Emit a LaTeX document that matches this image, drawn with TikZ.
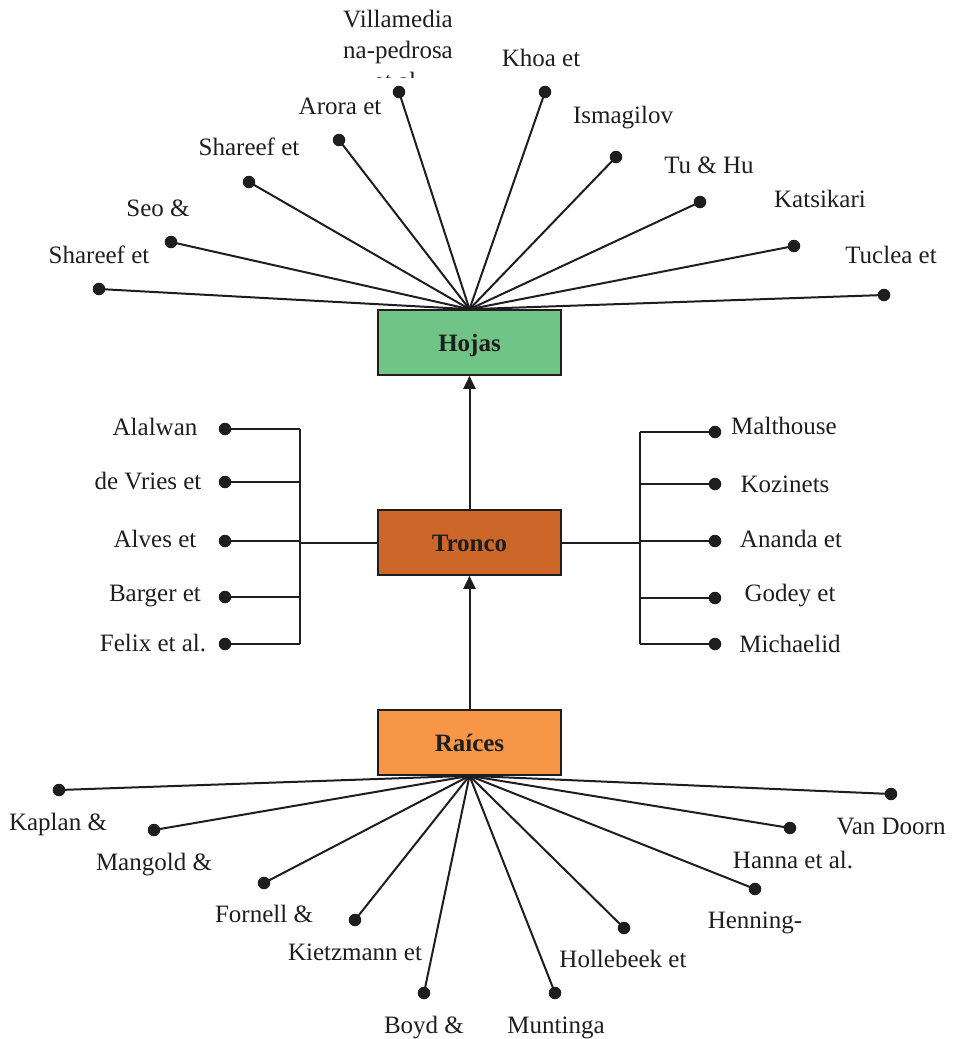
\documentclass[tikz,border=0pt]{standalone}
\usepackage{fontspec}
\setmainfont{Liberation Serif}
\usetikzlibrary{arrows.meta}
\definecolor{hojasgreen}{RGB}{112,196,134}
\definecolor{troncobrown}{RGB}{204,102,41}
\definecolor{raicesorange}{RGB}{247,150,70}
\definecolor{ink}{RGB}{30,30,30}
\begin{document}
\begin{tikzpicture}[x=1pt,y=-1pt,
  every node/.style={font=\fontsize{25}{30}\selectfont, text=ink},
  level/.style={draw=ink, line width=1.6pt, minimum width=183pt, minimum height=65pt,
    inner sep=0pt, text height=17pt, text depth=0pt,
    font=\fontsize{25}{30}\selectfont\bfseries},
  dot/.style={circle, fill=ink, inner sep=0pt, minimum size=12.5pt},
  lbl/.style={inner sep=0pt, text height=17pt, text depth=0pt},
  link/.style={draw=ink, line width=2pt},
  up/.style={link, -{Triangle[width=12pt,length=13pt]}}]
\useasboundingbox (0,0) rectangle (957,1039);

% the three levels
\node[level, fill=hojasgreen]   (hojas)  at (469.5,342.5) {Hojas};
\node[level, fill=troncobrown]  (tronco) at (469.5,542.5) {Tronco};
\node[level, fill=raicesorange] (raices) at (469.5,742.5) {Raíces};
\draw[up] (raices.north) -- (tronco.south);
\draw[up] (tronco.north) -- (hojas.south);

% leaves: authors fanning out from Hojas
\foreach \n/\x/\y in {h1/99/289, h2/171/242, h3/249/182, h4/339/140, h5/399/92,
                      h6/545/92, h7/616/157, h8/700/202, h9/794/246, h10/884/295} {
  \node[dot] (\n) at (\x,\y) {};
  \draw[link] (hojas.north) -- (\n.center);
}
\node[lbl] (th1) at (99,255) {Shareef et};
\node[lbl] (th2) at (158,208) {Seo \&};
\node[lbl] (th3) at (249,147) {Shareef et};
\node[lbl] (th4) at (340,106) {Arora et};
\node[lbl] (th5a) at (398,19) {Villamedia};
\node[lbl] (th5b) at (398,50) {na-pedrosa};
\begin{scope}
  \clip (300,60) rectangle (500,77);
  \node[lbl] (th5c) at (398,81) {et al.};
\end{scope}
\node[lbl] (th6) at (541,58) {Khoa et};
\node[lbl] (th7) at (623,115) {Ismagilov};
\node[lbl] (th8) at (709,165) {Tu \& Hu};
\node[lbl] (th9) at (820,199) {Katsikari};
\node[lbl] (th10) at (891,255) {Tuclea et};

% trunk: two bracket buses beside Tronco
\coordinate (lbus) at (300,542.5);
\coordinate (rbus) at (640,542.5);
\foreach \n/\y in {l1/429, l2/482, l3/541, l4/597, l5/644} {
  \node[dot] (\n) at (225,\y) {};
  \draw[link] (\n.center) -- (\n.center -| lbus);
}
\foreach \n/\y in {r1/432, r2/484, r3/541, r4/598, r5/644} {
  \node[dot] (\n) at (715,\y) {};
  \draw[link] (\n.center) -- (\n.center -| rbus);
}
\draw[link] (l1.center -| lbus) -- (l5.center -| lbus);
\draw[link] (r1.center -| rbus) -- (r5.center -| rbus);
\draw[link] (tronco.west) -- (lbus);
\draw[link] (tronco.east) -- (rbus);

\node[lbl] (tl1) at (155,427) {Alalwan};
\node[lbl] (tl2) at (148,481) {de Vries et};
\node[lbl] (tl3) at (155,539) {Alves et};
\node[lbl] (tl4) at (155,593) {Barger et};
\node[lbl] (tl5) at (153,643) {Felix et al.};
\node[lbl] (tr1) at (784,426) {Malthouse};
\node[lbl] (tr2) at (785,484) {Kozinets};
\node[lbl] (tr3) at (791,539) {Ananda et};
\node[lbl] (tr4) at (790,593) {Godey et};
\node[lbl] (tr5) at (790,644) {Michaelid};

% roots: authors fanning out from Raíces
\foreach \n/\x/\y in {b1/59/790, b2/154/830, b3/264/883, b4/355/920, b5/424/993,
                      b6/555/993, b7/624/928, b8/755/889, b9/790/828, b10/891/794} {
  \node[dot] (\n) at (\x,\y) {};
  \draw[link] (raices.south) -- (\n.center);
}
\node[lbl] (tb1) at (58,822) {Kaplan \&};
\node[lbl] (tb2) at (154,862) {Mangold \&};
\node[lbl] (tb3) at (264,914) {Fornell \&};
\node[lbl] (tb4) at (355,952) {Kietzmann et};
\node[lbl] (tb5) at (424,1025) {Boyd \&};
\node[lbl] (tb6) at (556,1025) {Muntinga};
\node[lbl] (tb7) at (623,959) {Hollebeek et};
\node[lbl] (tb8) at (755,920) {Henning-};
\node[lbl] (tb9) at (793,860) {Hanna et al.};
\node[lbl] (tb10) at (891,826) {Van Doorn};
\end{tikzpicture}
\end{document}
